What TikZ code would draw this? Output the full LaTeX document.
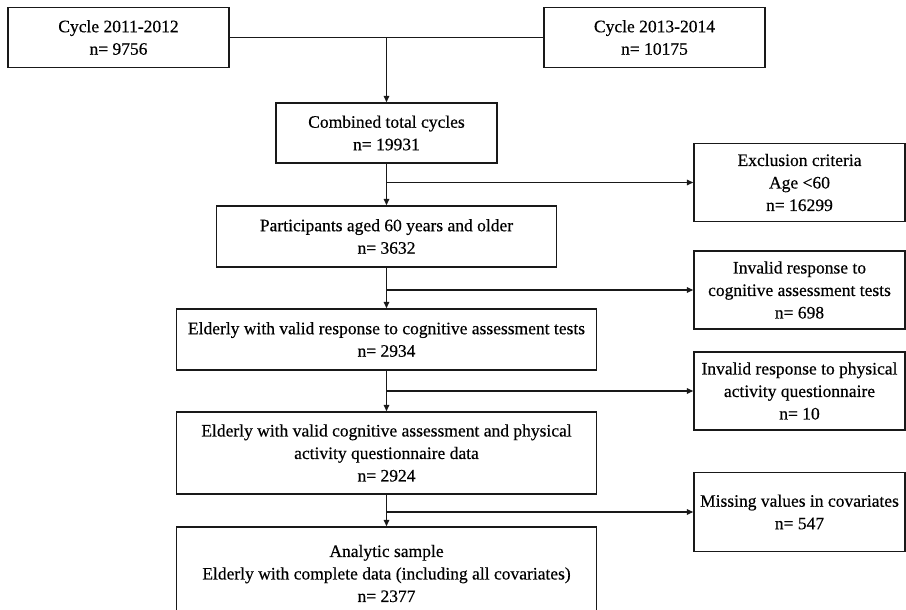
\documentclass[tikz,border=0pt]{standalone}
\usepackage{fontspec}
\setmainfont{Liberation Serif}
\newfontfamily\boxfont{Liberation Serif}[FakeBold=0.4]
\usetikzlibrary{arrows.meta}
\begin{document}
\begin{tikzpicture}[x=1bp,y=-1bp,
  box/.style={draw=black!90,line width=1.4bp,align=center,inner sep=0pt,
    font=\boxfont\fontsize{17.5bp}{22.5bp}\selectfont},
  conn/.style={draw=black!90,line width=1.4bp},
  arr/.style={conn,-{Triangle[length=6.5bp,width=5.5bp]}}]
\useasboundingbox (0,0) rectangle (906,610);
\fill[white] (0,0) rectangle (906,610);
% left column
\node[box,minimum width=221bp,minimum height=60bp] (c1) at (118.5,37.5) {Cycle 2011-2012\\n= 9756};
\node[box,minimum width=221bp,minimum height=60bp] (c2) at (654.5,37.5) {Cycle 2013-2014\\n= 10175};
\node[box,minimum width=221bp,minimum height=60bp] (comb) at (386.5,133) {Combined total cycles\\n= 19931};
\node[box,minimum width=340bp,minimum height=61bp] (part) at (386.5,236.5) {Participants aged 60 years and older\\n= 3632};
\node[box,minimum width=420bp,minimum height=61bp] (ecog) at (386.5,339.5) {Elderly with valid response to cognitive assessment tests\\n= 2934};
\node[box,minimum width=420bp,minimum height=82bp] (epa) at (386.5,453) {Elderly with valid cognitive assessment and physical\\activity questionnaire data\\n= 2924};
\node[box,minimum width=420bp,minimum height=93bp] (anal) at (386.5,573.5) {Analytic sample\\Elderly with complete data (including all covariates)\\n= 2377};
% right column
\node[box,minimum width=211bp,minimum height=78bp] (excl) at (799.5,182.5) {Exclusion criteria\\Age <60\\n= 16299};
\node[box,minimum width=211bp,minimum height=78bp] (icog) at (799.5,290) {Invalid response to\\cognitive assessment tests\\n= 698};
\node[box,minimum width=211bp,minimum height=78bp] (ipa) at (799.5,391) {Invalid response to physical\\activity questionnaire\\n= 10};
\node[box,minimum width=211bp,minimum height=79bp] (miss) at (799.5,512) {Missing values in covariates\\n= 547};
% junctions
\coordinate (j0) at (comb.north |- c1.east);
\coordinate (j1) at (comb.south |- excl.west);
\coordinate (j2) at (part.south |- icog.west);
\coordinate (j3) at (ecog.south |- ipa.west);
\coordinate (j4) at (epa.south |- miss.west);
% connectors
\draw[conn] (c1.east) -- (c2.west);
\draw[arr] (j0) -- (comb.north);
\draw[arr] (comb.south) -- (part.north);
\draw[arr] (j1) -- (excl.west);
\draw[arr] (part.south) -- (ecog.north);
\draw[arr] (j2) -- (icog.west);
\draw[arr] (ecog.south) -- (epa.north);
\draw[arr] (j3) -- (ipa.west);
\draw[arr] (epa.south) -- (anal.north);
\draw[arr] (j4) -- (miss.west);
\end{tikzpicture}
\end{document}
